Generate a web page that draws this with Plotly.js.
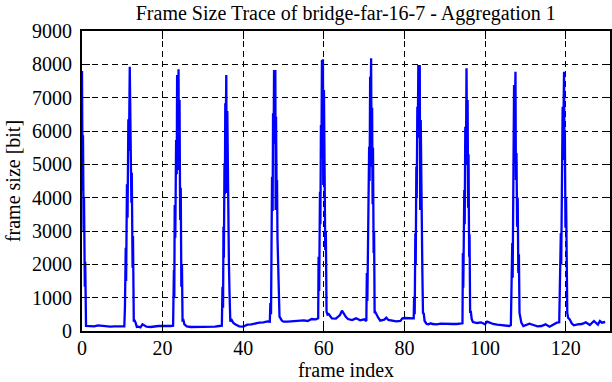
<!DOCTYPE html>
<html>
<head>
<meta charset="utf-8">
<script src="https://cdn.plot.ly/plotly-3.0.1.min.js"></script>
<style>html,body{margin:0;padding:0;background:#fff}#chart{width:612px;height:382px}</style>
</head>
<body>
<div id="chart"></div>
<script>
const chartTitle = "Frame Size Trace of bridge-far-16-7 - Aggregation 1";
const xLabel = "frame index";
const yLabel = "frame size [bit]";
const xTickValues = [0, 20, 40, 60, 80, 100, 120];
const yTickValues = [0, 1000, 2000, 3000, 4000, 5000, 6000, 7000, 8000, 9000];

const frameIndex = [
  0, 0.15, 0.25, 0.4, 0.5, 0.7, 0.8, 1.0,
  1.5, 2, 3, 4, 5, 6, 7, 8, 9, 10, 10.5,
  10.65, 10.85, 10.95, 11.15, 11.3, 11.5, 11.65, 11.85, 12.0, 12.1, 12.25, 12.35, 12.55, 12.65, 12.85, 13.0,
  13.3, 13.6, 14, 14.5, 15, 15.5, 16, 17, 18, 19, 20, 21, 22, 22.6,
  22.8, 22.9, 23.0, 23.15, 23.35, 23.5, 23.6, 23.8, 23.95, 24.05, 24.2, 24.35, 24.5, 24.65, 24.8, 24.95, 25.1,
  25.4, 26, 27, 28, 29, 30, 31, 32, 33, 34, 34.7,
  34.85, 35.0, 35.1, 35.2, 35.35, 35.45, 35.55, 35.65, 35.8, 35.9, 36.05, 36.2, 36.3, 36.45, 36.6, 36.8, 37.0,
  37.5, 38, 39, 40, 41, 42, 43, 44, 45, 46, 46.6,
  46.73, 46.9, 47.06, 47.1, 47.15, 47.3, 47.4, 47.55, 47.65, 47.8, 47.97, 48.05, 48.14, 48.3, 48.39, 48.5, 48.64, 48.8, 49.0,
  49.6, 50, 51, 52, 53, 54, 55, 56, 57, 58, 58.6,
  58.7, 58.85, 59.04, 59.15, 59.28, 59.4, 59.53, 59.65, 59.78, 59.85, 60.03, 60.15, 60.27, 60.35, 60.5, 60.6, 60.67, 60.9,
  61.2, 62, 63, 64, 64.5, 65.5, 66, 67, 68, 69, 70, 70.55,
  70.67, 70.8, 71.0, 71.1, 71.24, 71.35, 71.49, 71.6, 71.73, 71.85, 71.98, 72.1, 72.2, 72.35, 72.47, 72.6, 72.8,
  73.5, 74, 75, 75.5, 76, 77, 78, 79, 79.5, 80, 81, 82.3,
  82.4, 82.55, 82.7, 82.8, 82.95, 83.05, 83.2, 83.3, 83.45, 83.6, 83.8, 83.9, 84.04, 84.15, 84.28, 84.35, 84.45, 84.6, 84.8,
  85, 85.5, 86, 86.5, 87, 88, 89, 90, 91, 92, 93, 94, 94.4,
  94.5, 94.6, 94.85, 94.95, 95.1, 95.25, 95.4, 95.55, 95.67, 95.8, 95.9, 96.05, 96.15, 96.3, 96.45,
  96.7, 97, 98, 99, 100, 100.5, 101, 102, 103, 104, 105, 106, 106.4,
  106.5, 106.6, 106.75, 106.85, 107.0, 107.1, 107.2, 107.35, 107.55, 107.65, 107.8, 107.95, 108.1, 108.25, 108.4, 108.55, 108.8,
  109, 109.5, 110, 111, 112, 113, 114, 115, 116, 117, 117.8, 118.4,
  118.5, 118.6, 118.8, 118.9, 119.0, 119.1, 119.25, 119.4, 119.6, 119.7, 119.8, 119.95, 120.1, 120.25, 120.4, 120.6,
  121, 121.5, 122, 123, 124, 125, 126, 127, 128, 128.5, 129, 129.8
];

const frameSize = [
  7800, 4200, 5870, 3000, 4000, 1330, 2080, 150,
  150, 160, 140, 170, 150, 130, 130, 140, 150, 140, 140,
  700, 2500, 1500, 4400, 3400, 6350, 5400, 7930, 5500, 6700, 3850, 4750, 1900, 2850, 280, 330,
  250, 120, 130, 110, 200, 160, 130, 120, 140, 150, 150, 140, 150, 160,
  1830, 1000, 3780, 2800, 5730, 4700, 7680, 6000, 7850, 4830, 6930, 3330, 4300, 1330, 2000, 280, 360,
  200, 140, 120, 120, 130, 140, 130, 120, 130, 150, 160,
  1330, 700, 3130, 2200, 5030, 4100, 6830, 5800, 7680, 4140, 6600, 3500, 4500, 2040, 1140, 280, 360,
  250, 200, 140, 130, 190, 200, 230, 250, 260, 290, 280,
  840, 500, 2730, 1800, 4630, 3600, 6530, 5600, 7830, 6000, 7830, 3630, 6430, 4000, 4530, 2800, 1930, 540, 430,
  310, 280, 280, 290, 280, 300, 320, 300, 360, 350, 380,
  2230, 1200, 4180, 3200, 6180, 5200, 8130, 7000, 8150, 4380, 7230, 5000, 5340, 2430, 3000, 1500, 580, 490,
  510, 380, 370, 480, 610, 420, 360, 330, 380, 320, 350, 300,
  1740, 900, 3690, 2700, 5530, 4500, 7630, 6500, 8180, 4930, 6700, 3800, 5500, 2340, 3000, 540, 560,
  400, 310, 340, 400, 330, 300, 290, 300, 380, 390, 380, 380,
  1030, 500, 2930, 2000, 4930, 4000, 6730, 5800, 7980, 6500, 7980, 3630, 6330, 4200, 5000, 2600, 1740, 540, 520,
  300, 210, 200, 230, 210, 200, 220, 210, 210, 210, 210, 220, 230,
  2340, 1300, 4230, 3200, 6130, 5000, 7880, 5130, 6930, 3700, 5300, 2230, 2900, 540, 600,
  350, 270, 240, 260, 200, 280, 260, 210, 190, 170, 160, 150, 180,
  840, 500, 2640, 1600, 4630, 3600, 7380, 6200, 7780, 4530, 5340, 3130, 4000, 1740, 2300, 540, 300,
  250, 150, 170, 220, 180, 140, 150, 200, 130, 200, 250, 260,
  1140, 600, 2940, 2000, 4830, 3800, 6730, 5700, 7780, 5130, 6030, 3100, 4000, 2340, 540, 400,
  350, 230, 170, 200, 210, 260, 180, 300, 190, 300, 250, 270
];

const font = "Liberation Serif";

const trace = {
  x: frameIndex,
  y: frameSize,
  type: "scatter",
  mode: "lines",
  line: {color: "#0000ff", width: 2.3},
  hoverinfo: "skip"
};

function axisBase() {
  return {
    showline: true,
    linecolor: "#000",
    linewidth: 2,
    mirror: "ticks",
    ticks: "inside",
    ticklen: 8,
    tickwidth: 1,
    tickcolor: "#000",
    showgrid: true,
    gridcolor: "#000",
    gridwidth: 1,
    griddash: "6px,4px",
    zeroline: false,
    tickfont: {family: font, size: 20, color: "#000", weight: "normal"}
  };
}

const layout = {
  width: 612,
  height: 382,
  margin: {l: 82, r: 2, t: 31, b: 51},
  paper_bgcolor: "#fff",
  plot_bgcolor: "#fff",
  showlegend: false,
  font: {family: font, size: 20, color: "#000"},
  title: {text: chartTitle, font: {family: font, size: 20, color: "#000"}, x: 0.565, xanchor: "center", yref: "container", y: 0.985, yanchor: "top"},
  xaxis: Object.assign(axisBase(), {
    range: [0, 131],
    tickmode: "array",
    tickvals: xTickValues,
    ticktext: xTickValues.map(String),
    ticklabelstandoff: -2,
    title: {text: xLabel, font: {family: font, size: 20, color: "#000"}, standoff: 0}
  }),
  yaxis: Object.assign(axisBase(), {
    range: [0, 9000],
    tickmode: "array",
    tickvals: yTickValues,
    ticktext: yTickValues.map(String),
    ticklabelstandoff: 4,
    title: {text: yLabel, font: {family: font, size: 20, color: "#000"}, standoff: 6}
  })
};

Plotly.newPlot("chart", [trace], layout, {displayModeBar: false, staticPlot: true});
</script>
</body>
</html>
